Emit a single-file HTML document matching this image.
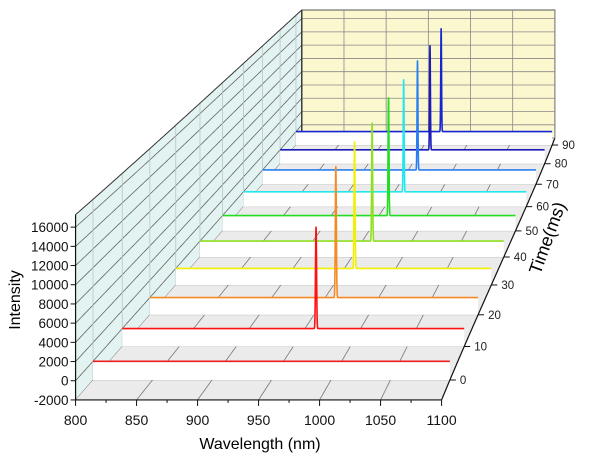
<!DOCTYPE html>
<html><head><meta charset="utf-8"><style>
html,body{margin:0;padding:0;background:#fff;}
svg{display:block;font-family:"Liberation Sans",Arial,sans-serif;}
</style></head><body>
<svg id="chart" width="611" height="466" viewBox="0 0 611 466" xmlns="http://www.w3.org/2000/svg">
<g id="walls"></g>
<g id="floor"></g>
<g id="series"></g>
<g id="axes"></g>
<text x="0" y="0" font-size="16" text-anchor="middle" transform="translate(20,300) rotate(-90)">Intensity</text>
<text x="260" y="449" font-size="16" text-anchor="middle">Wavelength (nm)</text>
<text x="0" y="0" font-size="18" text-anchor="middle" transform="translate(553,240) rotate(-70)">Time(ms)</text>
</svg>
<script>
// ---- data ----
const times = [0, 10, 20, 30, 40, 50, 60, 70, 80, 90];
const peakIntensity = [0, 11300, 15200, 15300, 14800, 15300, 15100, 15200, 15000, 15300];
const peakWavelength = [970, 970, 970, 970, 970, 970, 970, 970, 970, 970];
const baseline = [0, 0, 0, 0, 0, 0, 0, 0, 0, 0];
const xTicks = [800, 850, 900, 950, 1000, 1050, 1100];
const yTicks = [-2000, 0, 2000, 4000, 6000, 8000, 10000, 12000, 14000, 16000];
const zTicks = [0, 10, 20, 30, 40, 50, 60, 70, 80, 90];
const colors = ['#ee1c1c','#ff1010','#f58a25','#f2f000','#8ee020','#22dd22','#22e8ee','#2a7ff0','#1a1ab8','#1525d0'];

// ---- axis geometry ----
const WMIN=800, WMAX=1100, IMIN=-2000, IMAX=17300, TFRONT=-5.7, TBACK=94;
const NS='http://www.w3.org/2000/svg';
function sc(t){return 1/(1+0.004477*(t+5.7));}
function xl(t){return 93+3.01*t-0.00839*t*t;}
function fy(t){return 380-3.446*t+0.00928*t*t;}
function X(w,t){return xl(t)+(w-WMIN)*1.22*sc(t);}
function Y(i,t){return fy(t)-(i-IMIN)*0.0096*sc(t);}
function el(tag,attrs,parent){const e=document.createElementNS(NS,tag);for(const k in attrs)e.setAttribute(k,attrs[k]);parent.appendChild(e);return e;}
function pts(arr){return arr.map(p=>p[0].toFixed(2)+','+p[1].toFixed(2)).join(' ');}
function depthPath(fn){const a=[];for(let t=TFRONT;t<=TBACK+0.001;t+=0.5)a.push(fn(t));return a;}

const walls=document.getElementById('walls');
const floorG=document.getElementById('floor');
const seriesG=document.getElementById('series');
const axes=document.getElementById('axes');

// left wall
const lw=depthPath(t=>[xl(t),Y(IMAX,t)]).concat(depthPath(t=>[xl(t),Y(IMIN,t)]).reverse());
let e=el('polygon',{points:pts(lw),fill:'#e3f3f1',stroke:'none'},walls);


yTicks.forEach(v=>{
  const g=el('polyline',{points:pts(depthPath(t=>[xl(t),Y(v,t)])),fill:'none',stroke:'#666','stroke-width':0.8},walls);
  
  
});
zTicks.forEach(v=>{
  const g=el('line',{x1:xl(v),y1:Y(IMIN,v),x2:xl(v),y2:Y(IMAX,v),stroke:'#b8c8c8','stroke-width':0.8},walls);
  
  
});
e=el('polyline',{points:pts(depthPath(t=>[xl(t),Y(IMAX,t)])),fill:'none',stroke:'#333','stroke-width':1},walls);



// back wall
const bw=[[X(WMIN,TBACK),Y(IMIN,TBACK)],[X(WMIN,TBACK),Y(IMAX,TBACK)],[X(WMAX,TBACK),Y(IMAX,TBACK)],[X(WMAX,TBACK),Y(IMIN,TBACK)]];
e=el('polygon',{points:pts(bw),fill:'#fbf8cf',stroke:'#555','stroke-width':1},walls);


yTicks.forEach(v=>{
  const g=el('line',{x1:X(WMIN,TBACK),y1:Y(v,TBACK),x2:X(WMAX,TBACK),y2:Y(v,TBACK),stroke:'#888','stroke-width':0.8},walls);
  
  
});
xTicks.forEach(v=>{
  const g=el('line',{x1:X(v,TBACK),y1:Y(IMIN,TBACK),x2:X(v,TBACK),y2:Y(IMAX,TBACK),stroke:'#888','stroke-width':0.8},walls);
  
  
});
e=el('line',{x1:X(WMIN,TBACK),y1:Y(IMIN,TBACK),x2:X(WMIN,TBACK),y2:Y(IMAX,TBACK),stroke:'#222','stroke-width':1.2},walls);



// floor
const fl=depthPath(t=>[xl(t),fy(t)]).concat(depthPath(t=>[X(WMAX,t),fy(t)]).reverse());
e=el('polygon',{points:pts(fl),fill:'#ebebeb',stroke:'none'},floorG);


zTicks.forEach(v=>{
  const g=el('line',{x1:X(WMIN,v),y1:fy(v),x2:X(WMAX,v),y2:fy(v),stroke:'#c4c4c4','stroke-width':1},floorG);
  
  
});
xTicks.slice(1,-1).forEach(v=>{
  const g=el('polyline',{points:pts(depthPath(t=>[X(v,t),fy(t)])),fill:'none',stroke:'#777','stroke-width':0.8},floorG);
  
  
});

// series, back to front
for(let k=times.length-1;k>=0;k--){
  const t=times[k];
  const curve=[];
  let w=WMIN;
  while(w<=WMAX+0.001){
    const d=(w-peakWavelength[k])/0.45;
    const I=baseline[k]+peakIntensity[k]*Math.exp(-d*d/2);
    curve.push([X(w,t),Y(I,t)]);
    w+=(Math.abs(w-peakWavelength[k])<4)?0.1:2;
  }
  const cur=curve.concat([[X(WMAX,t),fy(t)],[X(WMIN,t),fy(t)]]);
  const c=el('polygon',{points:pts(cur),fill:'#ffffff',stroke:'none'},seriesG);
  
  
  const l=el('polyline',{points:pts(curve),fill:'none',stroke:colors[k],'stroke-width':1.6,'stroke-linejoin':'round'},seriesG);
  
  
}

// front axes
const t0=TFRONT;
e=el('line',{x1:X(WMIN,t0),y1:Y(IMIN,t0),x2:X(WMIN,t0),y2:Y(IMAX,t0),stroke:'#111','stroke-width':1.2},axes);


e=el('line',{x1:X(WMIN,t0),y1:Y(IMIN,t0),x2:X(WMAX,t0),y2:Y(IMIN,t0),stroke:'#111','stroke-width':1.2},axes);


yTicks.forEach(v=>{
  const y=Y(v,t0);
  const tk=el('line',{x1:X(WMIN,t0)-5,y1:y,x2:X(WMIN,t0),y2:y,stroke:'#111','stroke-width':1},axes);
  
  
  const tx=el('text',{x:X(WMIN,t0)-7,y:y+5,'font-size':13.5,'text-anchor':'end',fill:'#111'},axes);
  tx.textContent=v;
  
  
});
for(let v=WMIN;v<=WMAX;v+=25){
  const x=X(v,t0),major=(v%50===0);
  const tk=el('line',{x1:x,y1:Y(IMIN,t0),x2:x,y2:Y(IMIN,t0)+(major?6:3),stroke:'#111','stroke-width':1},axes);
  
  
}
xTicks.forEach(v=>{
  const tx=el('text',{x:X(v,t0),y:Y(IMIN,t0)+25,'font-size':14,'text-anchor':'middle',fill:'#111'},axes);
  tx.textContent=v;
  
  
});
e=el('polyline',{points:pts(depthPath(t=>[X(WMAX,t),fy(t)])),fill:'none',stroke:'#111','stroke-width':1.2},axes);


zTicks.forEach(v=>{
  const x=X(WMAX,v),y=fy(v);
  const tk=el('line',{x1:x,y1:y,x2:x+6,y2:y,stroke:'#111','stroke-width':1},axes);
  
  
  const tx=el('text',{x:x+10,y:y+4,'font-size':11.5,'text-anchor':'start',fill:'#222'},axes);
  tx.textContent=v;
  
  
});
</script>
</body></html>
